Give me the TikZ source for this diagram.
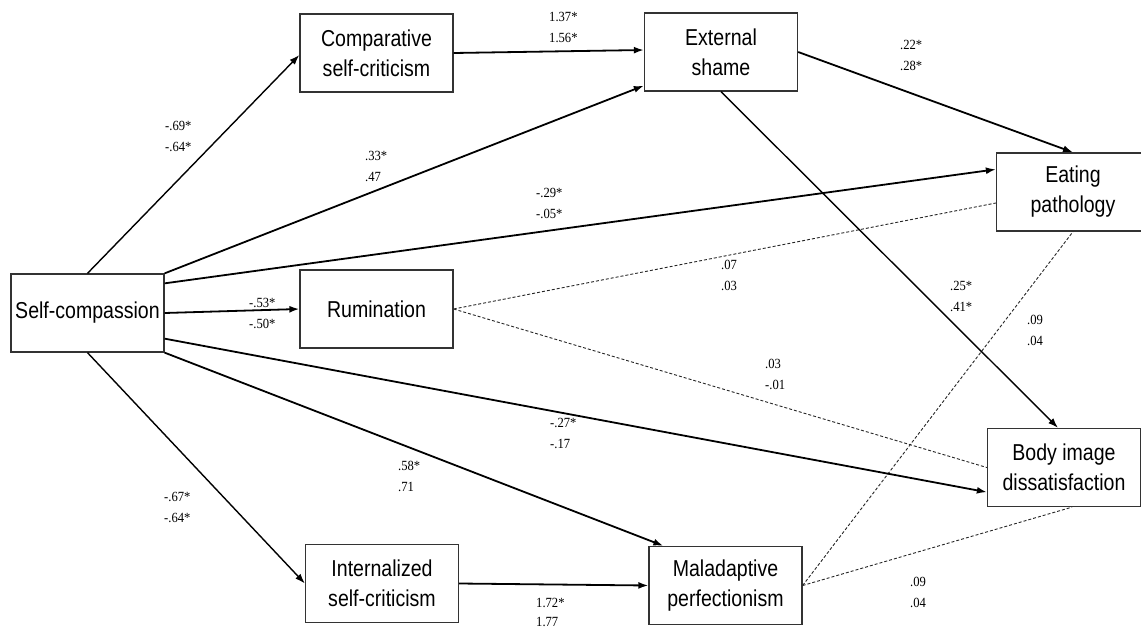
\documentclass[tikz,border=0pt]{standalone}
\usepackage{fontspec}
\setmainfont{Liberation Serif}
\newfontfamily\boxfont{Liberation Sans}[FakeStretch=0.85]
\newfontfamily\coeffont{Liberation Serif}[FakeStretch=0.9]
\usetikzlibrary{arrows.meta}
\begin{document}
\begin{tikzpicture}[x=1pt,y=-1pt,
  var/.style={draw=black!80, line width=1.3pt, fill=white, rectangle,
    minimum width=153pt, minimum height=78pt, inner sep=0pt,
    align=center, font=\boxfont\fontsize{23}{30}\selectfont},
  path/.style={draw=black, line width=1.8pt, -{Latex[length=10pt,width=7pt]}},
  thinpath/.style={draw=black, line width=1.4pt, -{Latex[length=10pt,width=7pt]}},
  ns/.style={draw=black!85, line width=0.9pt, dash pattern=on 3pt off 2pt},
  coef/.style={anchor=west, inner sep=0pt, align=left, font=\coeffont\fontsize{14}{21}\selectfont}]
\useasboundingbox (0,0) rectangle (1141,632);
\clip (0,0) rectangle (1141,632);
\fill[white] (0,0) rectangle (1141,632);

% nodes
\node[var] (sc)  at (87.5,313)   {Self-compassion};
\node[var] (csc) at (376.5,53)   {Comparative\\self-criticism};
\node[var] (es)  at (721,52)     {External\\shame};
\node[var] (rum) at (376.5,309)  {Rumination};
\node[var] (isc) at (382,583.5)  {Internalized\\self-criticism};
\node[var] (mp)  at (725.5,585.5){Maladaptive\\perfectionism};
\node[var] (bid) at (1064,467.5) {Body image\\dissatisfaction};
\node[var] (ep)  at (1073,192)   {Eating\\pathology};

% non-significant paths (dashed)
\draw[ns] (rum.east) -- ([yshift=-11pt]ep.west);
\draw[ns] (rum.east) -- (bid.west);
\draw[ns] (mp.east) -- (ep.south);
\draw[ns] (mp.east) -- ([xshift=8pt]bid.south);

% significant paths
\draw[thinpath] (sc.north) -- ([yshift=-2pt]csc.west);
\draw[path] (csc.east) -- ([yshift=2pt]es.west);
\draw[path] (sc.north east) -- ([yshift=6pt]es.south west);
\draw[path] ([yshift=-10pt]sc.north east) -- ([yshift=-17pt]ep.north west);
\draw[path] (sc.east) -- (rum.west);
\draw[path] ([yshift=14pt]sc.south east) -- ([yshift=15pt]bid.south west);
\draw[path] (sc.south east) -- ([xshift=15pt]mp.north west);
\draw[thinpath] (sc.south) -- (isc.west);
\draw[path] (isc.east) -- (mp.west);
\draw[path] (es.east) -- (ep.north);
\draw[thinpath] (es.south) -- ([xshift=-6pt]bid.north);

% coefficients
\node[coef] (l1)  at (165,136)  {-.69*\\-.64*};
\node[coef] (l2)  at (365,166)  {.33*\\.47};
\node[coef] (l3)  at (536,203)  {-.29*\\-.05*};
\node[coef] (l4)  at (249,313)  {-.53*\\-.50*};
\node[coef] (l5)  at (549,27)   {1.37*\\1.56*};
\node[coef] (l6)  at (900,55)   {.22*\\.28*};
\node[coef] (l7)  at (721,275)  {.07\\.03};
\node[coef] (l8)  at (950,296)  {.25*\\.41*};
\node[coef] (l9)  at (1027,330) {.09\\.04};
\node[coef] (l10) at (765,374)  {.03\\-.01};
\node[coef] (l11) at (550,433)  {-.27*\\-.17};
\node[coef] (l12) at (398,476)  {.58*\\.71};
\node[coef] (l13) at (164,507)  {-.67*\\-.64*};
\node[coef,font=\coeffont\fontsize{14}{19}\selectfont] (l14) at (536,612)  {1.72*\\1.77};
\node[coef] (l15) at (910,592)  {.09\\.04};
\end{tikzpicture}
\end{document}
